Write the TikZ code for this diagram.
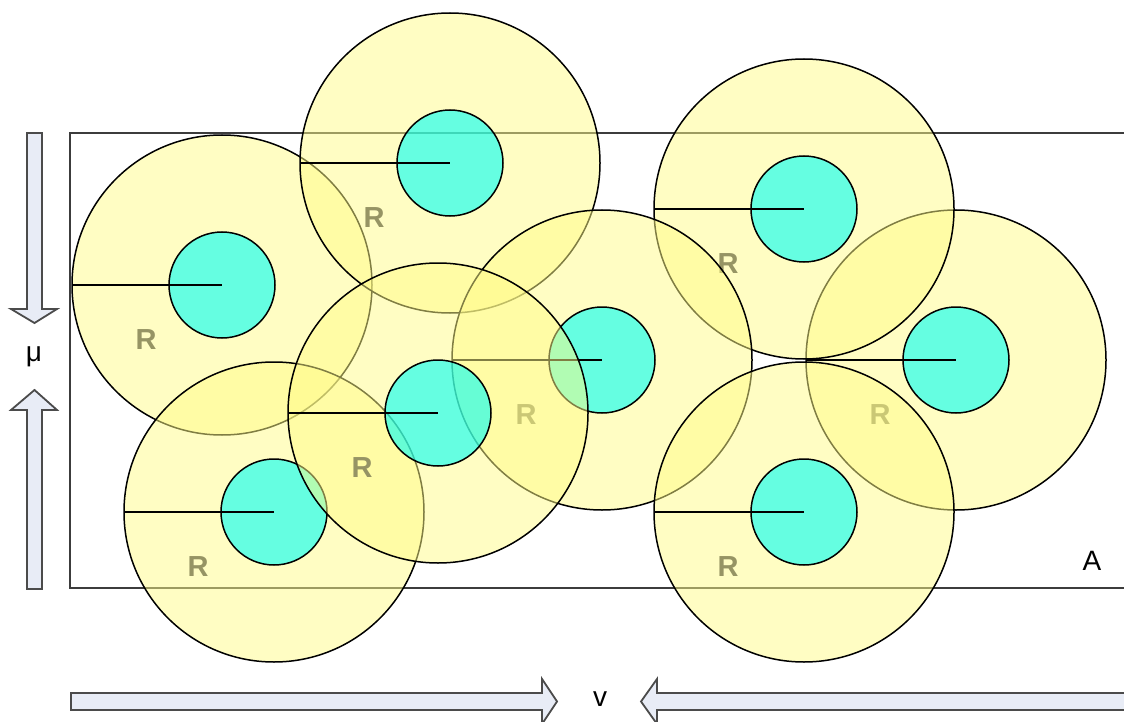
\documentclass[tikz,border=0pt]{standalone}
\usepackage{fontspec}
\setmainfont{Liberation Sans}
\definecolor{ylw}{RGB}{255,251,135}
\definecolor{cyn}{RGB}{0,255,245}
\definecolor{arrowfill}{RGB}{232,236,246}
\definecolor{arrowline}{RGB}{75,75,75}
\definecolor{rtext}{RGB}{150,148,100}
\definecolor{framecol}{RGB}{60,60,60}
\tikzset{
  big/.style={fill=ylw, fill opacity=0.5, draw=black, draw opacity=1, line width=1.5pt},
  core/.style={fill=cyn, fill opacity=0.6, draw=black, draw opacity=1, line width=1.5pt},
  radius line/.style={draw=black, line width=1.6pt},
  rlabel/.style={text=rtext, font=\fontsize{29}{30}\selectfont\bfseries, inner sep=0pt},
  blockarrow/.style={fill=arrowfill, draw=arrowline, line width=1.8pt, line join=miter},
  plainlabel/.style={text=black, font=\fontsize{28}{30}\selectfont, inner sep=0pt},
  framebox/.style={draw=framecol, line width=1.6pt}
}
\newcommand\cell[3]{%
  \coordinate (#1) at (#2,#3);
  \coordinate (#1w) at (#2-150,#3);
  \path[big] (#1) circle[radius=150pt];
  \path[core] (#1) circle[radius=53pt];
  \draw[radius line] (#1w) -- (#1);
  \node[rlabel] (#1r) at (#2-76,#3+55) {R};
}
\begin{document}
\begin{tikzpicture}[x=1pt,y=-1pt]
\useasboundingbox (0,0) rectangle (1124,722);
\clip (0,0) rectangle (1124,722);
% frame A
\coordinate (fa) at (70,133);
\coordinate (fb) at (1140,588);
\draw[framebox] (fa) rectangle (fb);
\node[plainlabel] (A) at (1092,561) {A};
% circles, in stacking order
\cell{c1}{222}{285}
\cell{c2}{450}{163}
\cell{c3}{274}{512}
\cell{c7}{956}{360}
\cell{c6}{804}{209}
\cell{c5}{602}{360}
\cell{c4}{438}{413}
\cell{c8}{804}{512}
% vertical arrows and mu
\draw[blockarrow] (27,133) -- (42,133) -- (42,309) -- (57,309) -- (34.5,323) -- (11,309) -- (27,309) -- cycle;
\draw[blockarrow] (27,589) -- (42,589) -- (42,410) -- (57,410) -- (34.5,390) -- (11,410) -- (27,410) -- cycle;
\node[plainlabel] (mu) at (34,357) {μ};
% horizontal arrows and v
\draw[blockarrow] (71,693) -- (542,693) -- (542,679) -- (557,701.5) -- (542,724) -- (542,710) -- (71,710) -- cycle;
\draw[blockarrow] (1140,693) -- (657,693) -- (657,679) -- (641,701.5) -- (657,724) -- (657,710) -- (1140,710) -- cycle;
\node[plainlabel] (v) at (600,699) {v};
\end{tikzpicture}
\end{document}
